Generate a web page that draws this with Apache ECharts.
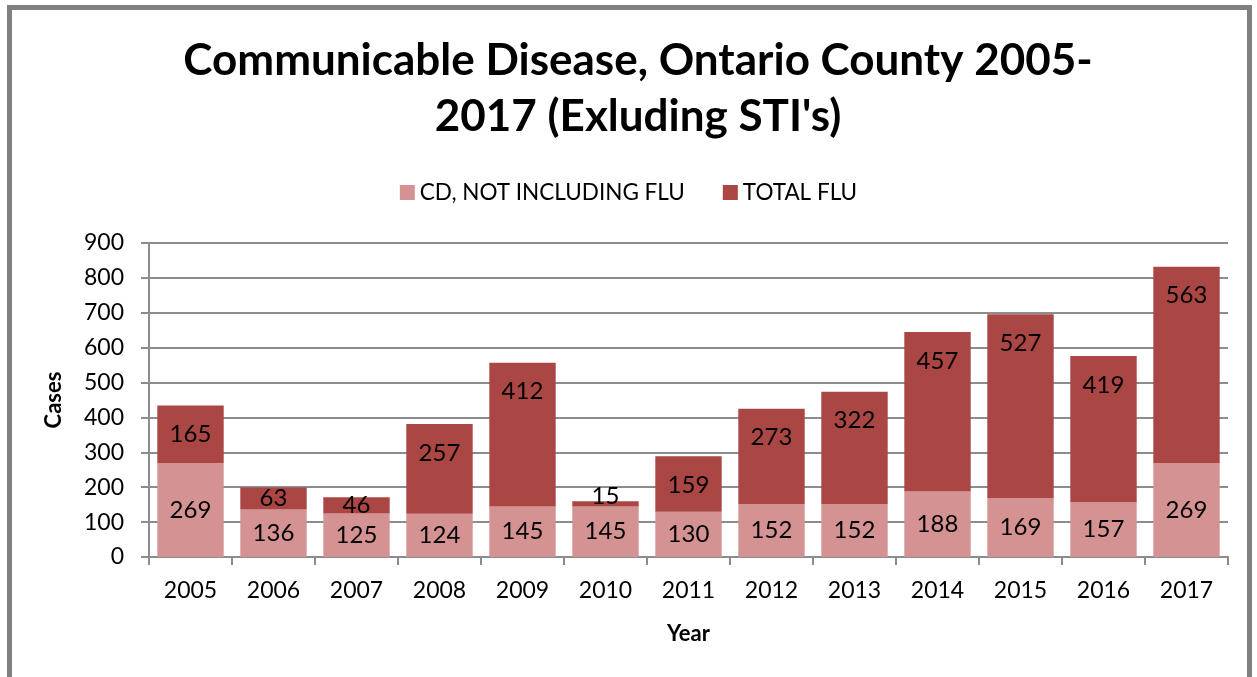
<!DOCTYPE html>
<html>
<head>
<meta charset="utf-8">
<script src="https://cdn.jsdelivr.net/npm/echarts@6/dist/echarts.min.js"></script>
<style>
  html, body { margin: 0; padding: 0; background: #fff; }
  #frame { position: absolute; left: 7px; top: 5px; width: 1245px; height: 690px;
           border: 5px solid #808080; border-bottom: none; box-sizing: border-box; }
  #chart { position: absolute; left: 0; top: 0; width: 1257px; height: 677px; }
</style>
</head>
<body>
<div id="frame"></div>
<div id="chart"></div>
<script>
const years = ['2005','2006','2007','2008','2009','2010','2011','2012','2013','2014','2015','2016','2017'];
const cdNotFlu = [269, 136, 125, 124, 145, 145, 130, 152, 152, 188, 169, 157, 269];
const totalFlu = [165, 63, 46, 257, 412, 15, 159, 273, 322, 457, 527, 419, 563];
const yTicks = { min: 0, max: 900, interval: 100 };

const FONT = 'Lato';
const chart = echarts.init(document.getElementById('chart'), null, { renderer: 'canvas' });

const labelStyle = { show: true, position: 'inside', color: '#000', fontFamily: FONT, fontSize: 24 };

// Flu labels sit near the top of their segment; short segments keep them centred,
// and a very thin one lets the label ride just above the bar.
const fluData = totalFlu.map(v => {
  if (v < 30) return { value: v, label: { position: 'inside', offset: [0, -8] } };
  if (v < 100) return { value: v, label: { position: 'inside' } };
  return { value: v, label: { position: 'insideTop', distance: 17 } };
});

chart.setOption({
  animation: false,
  backgroundColor: 'transparent',
  title: {
    text: "Communicable Disease, Ontario County 2005-\n2017 (Exluding STI's)",
    left: 633, top: 28, textAlign: 'center',
    textStyle: { fontFamily: FONT, fontWeight: 'bold', fontSize: 44, lineHeight: 56, color: '#000' }
  },
  legend: {
    top: 176, left: 'center',
    itemWidth: 15, itemHeight: 15, itemGap: 38,
    icon: 'rect',
    textStyle: { fontFamily: FONT, fontSize: 22.5, color: '#000' },
    data: ['CD, NOT INCLUDING FLU', 'TOTAL FLU']
  },
  grid: { left: 149, right: 29, top: 243, bottom: 120, containLabel: false },
  xAxis: {
    type: 'category', data: years,
    name: 'Year', nameLocation: 'middle', nameGap: 66,
    nameTextStyle: { fontFamily: FONT, fontWeight: 'bold', fontSize: 22, color: '#000' },
    axisLine: { lineStyle: { color: '#8c8c8c', width: 2 } },
    axisTick: { show: true, alignWithLabel: false, length: 8, lineStyle: { color: '#8c8c8c', width: 2 } },
    axisLabel: { fontFamily: FONT, fontSize: 23, color: '#000', margin: 22 }
  },
  yAxis: {
    type: 'value', min: yTicks.min, max: yTicks.max, interval: yTicks.interval,
    name: 'Cases', nameLocation: 'middle', nameGap: 84, nameRotate: 90,
    nameTextStyle: { fontFamily: FONT, fontWeight: 'bold', fontSize: 22, color: '#000' },
    axisLine: { show: true, lineStyle: { color: '#8c8c8c', width: 2 } },
    axisTick: { show: true, length: 8, lineStyle: { color: '#8c8c8c', width: 2 } },
    axisLabel: { fontFamily: FONT, fontSize: 23, color: '#000', margin: 25 },
    splitLine: { lineStyle: { color: '#8c8c8c', width: 2 } }
  },
  series: [
    {
      name: 'CD, NOT INCLUDING FLU', type: 'bar', stack: 'cases',
      data: cdNotFlu, barWidth: '80%',
      itemStyle: { color: '#D49392' },
      label: labelStyle
    },
    {
      name: 'TOTAL FLU', type: 'bar', stack: 'cases',
      data: fluData, barWidth: '80%',
      itemStyle: { color: '#AA4643' },
      label: labelStyle
    }
  ]
});
</script>
</body>
</html>
